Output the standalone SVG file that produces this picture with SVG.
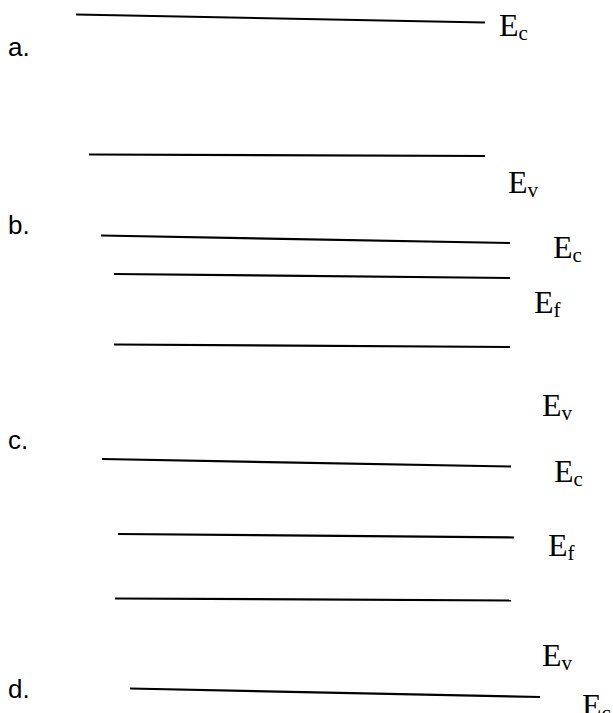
<svg xmlns="http://www.w3.org/2000/svg" width="613" height="713" viewBox="0 0 613 713">
<style>
.ln{stroke:#000;stroke-width:2.2;fill:none}
.lab{font-family:"Liberation Sans","DejaVu Sans",sans-serif;font-size:26px;fill:#000}
.e{font-family:"Liberation Serif","Times New Roman",serif;font-size:32px;fill:#000}
.s{font-size:21px}
</style>
<rect width="613" height="713" fill="#fff"/>
<g id="connectors">
<line class="ln" x1="76" y1="14.5" x2="485" y2="22.5"/>
<line class="ln" x1="89" y1="154.5" x2="485" y2="156"/>
<line class="ln" x1="101" y1="235.5" x2="510" y2="243"/>
<line class="ln" x1="114" y1="274" x2="510" y2="278"/>
<line class="ln" x1="114" y1="344.5" x2="510" y2="347"/>
<line class="ln" x1="102" y1="459" x2="511" y2="466.5"/>
<line class="ln" x1="118" y1="534" x2="514" y2="537.5"/>
<line class="ln" x1="115" y1="598.5" x2="511" y2="600.5"/>
<line class="ln" x1="130" y1="688.5" x2="540" y2="697"/>
</g>
<g id="label-a"><text class="lab" x="8" y="56">a.</text></g>
<g id="label-b"><text class="lab" x="8" y="234">b.</text></g>
<g id="label-c"><text class="lab" x="8" y="449">c.</text></g>
<g id="label-d"><text class="lab" x="8" y="698">d.</text></g>
<g id="a-Ec"><text class="e" x="499" y="36">E<tspan class="s" dy="4">c</tspan></text></g>
<g id="a-Ev"><text class="e" x="508" y="193">E<tspan class="s" dy="4">v</tspan></text></g>
<g id="b-Ec"><text class="e" x="553" y="258">E<tspan class="s" dy="4">c</tspan></text></g>
<g id="b-Ef"><text class="e" x="534" y="313">E<tspan class="s" dy="4">f</tspan></text></g>
<g id="b-Ev"><text class="e" x="542" y="416">E<tspan class="s" dy="4">v</tspan></text></g>
<g id="c-Ec"><text class="e" x="554" y="482">E<tspan class="s" dy="4">c</tspan></text></g>
<g id="c-Ef"><text class="e" x="548" y="556">E<tspan class="s" dy="4">f</tspan></text></g>
<g id="c-Ev"><text class="e" x="542" y="666">E<tspan class="s" dy="4">v</tspan></text></g>
<g id="d-Ec"><text class="e" x="582" y="716">E<tspan class="s" dy="4">c</tspan></text></g>
</svg>
